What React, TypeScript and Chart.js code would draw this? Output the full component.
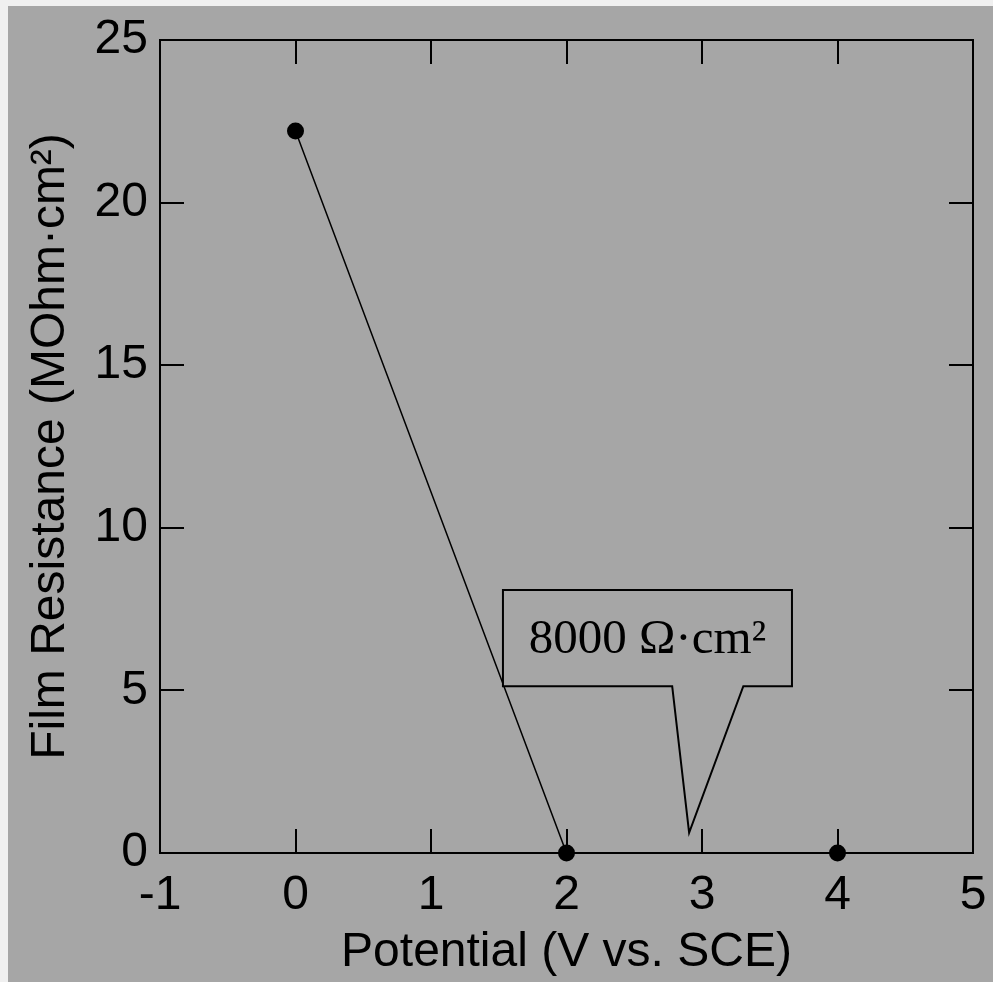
import React, { useEffect, useRef } from "react";
import { Chart, registerables } from "chart.js";

Chart.register(...registerables);

// Film resistance versus applied potential
const potentials = [0, 2, 4];
const filmResistance = [22.2, 0, 0];

const xTickValues = [-1, 0, 1, 2, 3, 4, 5];
const xTickLabels = ["-1", "0", "1", "2", "3", "4", "5"];
const yTickValues = [0, 5, 10, 15, 20, 25];
const yTickLabels = ["0", "5", "10", "15", "20", "25"];

const xTitle = "Potential (V vs. SCE)";
const yTitle = "Film Resistance (MOhm·cm²)";
const calloutText = "8000 Ω·cm²";

// Callout geometry, expressed in axis units
const calloutBox = { xMin: 1.531, xMax: 3.664, yMin: 5.13, yMax: 8.09 };
const calloutPointer = { baseLeft: 2.78, baseRight: 3.305, tipX: 2.905, tipY: 0.62 };

const SANS = '"Liberation Sans", Arial, sans-serif';
const SERIF = '"Liberation Serif", "Times New Roman", serif';
const BG = "#a6a6a6";
const TICK_LEN = 24;

const frameAndTicks = {
  id: "frameAndTicks",
  beforeDatasetsDraw(chart: any) {
    const { ctx, chartArea, scales } = chart;
    const { left, right, top, bottom } = chartArea;
    ctx.save();
    ctx.strokeStyle = "#000";
    ctx.lineWidth = 2;
    ctx.beginPath();
    for (const v of xTickValues) {
      const px = Math.round(scales.x.getPixelForValue(v));
      ctx.moveTo(px, bottom);
      ctx.lineTo(px, bottom - TICK_LEN);
      ctx.moveTo(px, top);
      ctx.lineTo(px, top + TICK_LEN);
    }
    for (const v of yTickValues) {
      const py = Math.round(scales.y.getPixelForValue(v));
      ctx.moveTo(left, py);
      ctx.lineTo(left + TICK_LEN, py);
      ctx.moveTo(right, py);
      ctx.lineTo(right - TICK_LEN, py);
    }
    ctx.stroke();
    ctx.strokeRect(left, top, right - left, bottom - top);
    ctx.restore();
  },
};

const callout = {
  id: "callout",
  afterDatasetsDraw(chart: any) {
    const { ctx, scales } = chart;
    const X = (v: number) => scales.x.getPixelForValue(v);
    const Y = (v: number) => scales.y.getPixelForValue(v);
    const bl = X(calloutBox.xMin);
    const br = X(calloutBox.xMax);
    const bt = Y(calloutBox.yMax);
    const bb = Y(calloutBox.yMin);
    ctx.save();
    ctx.beginPath();
    ctx.moveTo(X(calloutPointer.baseLeft), bb);
    ctx.lineTo(bl, bb);
    ctx.lineTo(bl, bt);
    ctx.lineTo(br, bt);
    ctx.lineTo(br, bb);
    ctx.lineTo(X(calloutPointer.baseRight), bb);
    ctx.lineTo(X(calloutPointer.tipX), Y(calloutPointer.tipY));
    ctx.closePath();
    ctx.fillStyle = BG;
    ctx.fill();
    ctx.lineWidth = 2;
    ctx.strokeStyle = "#000";
    ctx.lineJoin = "miter";
    ctx.stroke();
    ctx.fillStyle = "#000";
    ctx.font = `49px ${SERIF}`;
    ctx.textAlign = "center";
    ctx.textBaseline = "middle";
    ctx.fillText(calloutText, (bl + br) / 2, (bt + bb) / 2 + 2);
    ctx.restore();
  },
};

export default function App() {
  const canvasRef = useRef<HTMLCanvasElement | null>(null);

  useEffect(() => {
    const canvas = canvasRef.current;
    if (!canvas) return;
    const chart = new Chart(canvas, {
      type: "scatter",
      data: {
        datasets: [
          {
            data: potentials.map((x, i) => ({ x, y: filmResistance[i] })),
            showLine: true,
            borderColor: "#000",
            borderWidth: 1.5,
            backgroundColor: "#000",
            pointRadius: 8.5,
            pointHoverRadius: 8.5,
            pointBackgroundColor: "#000",
            pointBorderColor: "#000",
            pointBorderWidth: 0,
            clip: false,
          } as any,
        ],
      },
      options: {
        responsive: false,
        animation: false,
        events: [],
        layout: { padding: { top: 40, right: 20, left: 0, bottom: 0 } },
        plugins: {
          legend: { display: false },
          tooltip: { enabled: false },
          title: { display: false },
        },
        scales: {
          x: {
            type: "linear",
            min: -1,
            max: 5,
            grid: { display: false, drawTicks: false },
            border: { display: false },
            afterFit: (s: any) => {
              s.height = 129;
              s.paddingLeft = 0;
              s.paddingRight = 0;
            },
            afterBuildTicks: (s: any) => {
              s.ticks = xTickValues.map((value) => ({ value }));
            },
            ticks: {
              autoSkip: false,
              maxRotation: 0,
              padding: 19,
              color: "#000",
              font: { family: SANS, size: 48, lineHeight: 1 },
              callback: (v: any) => xTickLabels[xTickValues.indexOf(Number(v))] ?? "",
            },
            title: {
              display: true,
              text: xTitle,
              color: "#000",
              font: { family: SANS, size: 48, lineHeight: 1 },
              padding: { top: 0, bottom: 5 },
            },
          },
          y: {
            type: "linear",
            min: 0,
            max: 25,
            grid: { display: false, drawTicks: false },
            border: { display: false },
            afterFit: (s: any) => {
              s.width = 160;
              s.paddingTop = 0;
              s.paddingBottom = 0;
            },
            afterBuildTicks: (s: any) => {
              s.ticks = yTickValues.map((value) => ({ value }));
            },
            ticks: {
              autoSkip: false,
              padding: 12,
              color: "#000",
              font: { family: SANS, size: 48, lineHeight: 1 },
              callback: (v: any) => yTickLabels[yTickValues.indexOf(Number(v))] ?? "",
            },
            title: {
              display: true,
              text: yTitle,
              color: "#000",
              font: { family: SANS, size: 48, lineHeight: 1 },
              padding: { top: 27, bottom: 0 },
            },
          },
        },
      },
      plugins: [frameAndTicks, callout],
    });
    return () => chart.destroy();
  }, []);

  return (
    <div
      style={{
        position: "fixed",
        left: 0,
        top: 0,
        width: 993,
        height: 982,
        background: "#f0f0f0",
        overflow: "hidden",
      }}
    >
      <div
        style={{
          position: "absolute",
          left: 8,
          top: 6,
          right: 0,
          bottom: 0,
          background: BG,
        }}
      />
      <canvas
        ref={canvasRef}
        width={993}
        height={982}
        style={{ position: "absolute", left: 0, top: 0, width: 993, height: 982 }}
      />
    </div>
  );
}
